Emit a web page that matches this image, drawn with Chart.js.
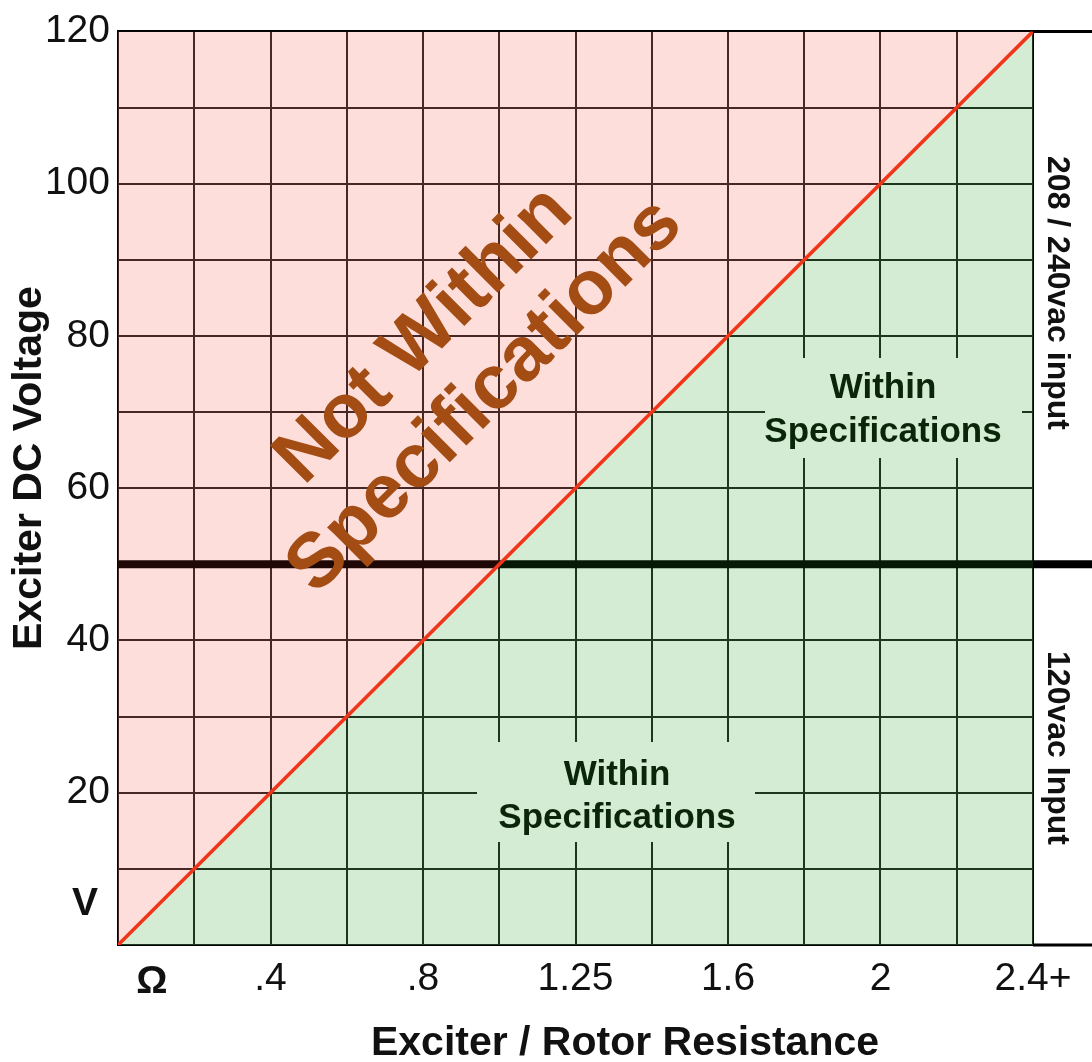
<!DOCTYPE html>
<html><head><meta charset="utf-8">
<script src="https://cdn.jsdelivr.net/npm/chart.js@4.4.0/dist/chart.umd.min.js"></script>
<style>html,body{margin:0;padding:0;background:#fff;}#wrap{width:1092px;height:1062px;}</style>
</head><body><div id="wrap"><canvas id="c" width="1092" height="1062"></canvas></div>
<script>
// ---- data ----
const resistance = [0, 2.4];          // Ω (x)
const voltageLimit = [0, 120];        // V (y) : limit line V = 50·R
const inputSplit = 50;                // 120vac / 208-240vac boundary (V)
const xTickValues = [0.4, 0.8, 1.2, 1.6, 2.0, 2.4];
const xTickLabels = ['.4', '.8', '1.25', '1.6', '2', '2.4+'];
const yTickValues = [20, 40, 60, 80, 100, 120];
const yTickLabels = ['20', '40', '60', '80', '100', '120'];
const xUnit = 'Ω', yUnit = 'V';
const xTitle = 'Exciter / Rotor Resistance';
const yTitle = 'Exciter DC Voltage';
const upperRange = '208 / 240vac input';
const lowerRange = '120vac Input';
const badZone = ['Not Within', 'Specifications'];
const goodZone = ['Within', 'Specifications'];

const FONT = "'Liberation Sans', Arial, Helvetica, sans-serif";
Chart.defaults.font.family = FONT;

const linePts = resistance.map((r, i) => ({x: r, y: voltageLimit[i]}));

function lookup(vals, labels, v) {
  const i = vals.findIndex(t => Math.abs(t - v) < 1e-6);
  return i >= 0 ? labels[i] : '';
}

const overlay = {
  id: 'overlay',
  beforeDraw(chart) {
    const ctx = chart.ctx;
    ctx.save(); ctx.fillStyle = '#fff'; ctx.fillRect(0, 0, chart.width, chart.height); ctx.restore();
  },
  beforeDatasetsDraw(chart) {
    const {ctx, chartArea: a, scales: {y}} = chart;
    ctx.save();
    ctx.strokeStyle = '#000';
    ctx.lineWidth = 3;
    [y.max, y.min].forEach(v => {
      const p = y.getPixelForValue(v);
      ctx.beginPath(); ctx.moveTo(a.right, p); ctx.lineTo(chart.width, p); ctx.stroke();
    });
    ctx.restore();
  },
  beforeDatasetDraw(chart, args) {
    if (args.index !== 0) return;   // draw the split line just before the red limit line
    const {ctx, chartArea: a, scales: {x, y}} = chart;
    const ys = y.getPixelForValue(inputSplit);
    const xs = x.getPixelForValue(inputSplit * resistance[1] / voltageLimit[1]);
    ctx.save();
    ctx.lineWidth = 8;
    ctx.strokeStyle = '#1f0806';
    ctx.beginPath(); ctx.moveTo(a.left, ys); ctx.lineTo(xs, ys); ctx.stroke();
    ctx.strokeStyle = '#061806';
    ctx.beginPath(); ctx.moveTo(xs, ys); ctx.lineTo(a.right, ys); ctx.stroke();
    ctx.strokeStyle = '#000';
    ctx.beginPath(); ctx.moveTo(a.right, ys); ctx.lineTo(chart.width, ys); ctx.stroke();
    ctx.restore();
  },
  afterDraw(chart) {
    const ctx = chart.ctx;
    ctx.save();
    ctx.fillStyle = '#111';
    ctx.textAlign = 'center';
    ctx.textBaseline = 'middle';
    ctx.font = 'bold 39px ' + FONT;
    ctx.fillText(xUnit, 152, 982);
    ctx.fillText(yUnit, 85, 904);

    ctx.textBaseline = 'alphabetic';
    ctx.font = 'bold 41px ' + FONT;
    ctx.fillText(xTitle, 625, 1055);
    ctx.save(); ctx.translate(41, 468); ctx.rotate(-Math.PI / 2); ctx.fillText(yTitle, 0, 0); ctx.restore();

    ctx.font = 'bold 32px ' + FONT;
    ctx.save(); ctx.translate(1048, 293); ctx.rotate(Math.PI / 2); ctx.fillText(upperRange, 0, 0); ctx.restore();
    ctx.save(); ctx.translate(1048, 748); ctx.rotate(Math.PI / 2); ctx.fillText(lowerRange, 0, 0); ctx.restore();

    // Not within specifications
    ctx.fillStyle = '#a34c14';
    ctx.font = 'bold 77px ' + FONT;
    ctx.save(); ctx.translate(451, 362); ctx.rotate(-Math.PI / 4);
    ctx.fillText(badZone[0], 0, -16);
    ctx.fillText(badZone[1], 0, 70);
    ctx.restore();

    // Within specifications labels with background boxes
    const boxes = [
      {x0: 477, x1: 755, y0: 742, y1: 842, cx: 617, b1: 785, b2: 828},
      {x0: 765, x1: 1022, y0: 358, y1: 458, cx: 883, b1: 398, b2: 442}
    ];
    ctx.font = 'bold 35px ' + FONT;
    boxes.forEach(b => {
      ctx.fillStyle = 'rgb(212,236,212)';
      ctx.fillRect(b.x0, b.y0, b.x1 - b.x0, b.y1 - b.y0);
      ctx.fillStyle = '#0a260a';
      ctx.fillText(goodZone[0], b.cx, b.b1);
      ctx.fillText(goodZone[1], b.cx, b.b2);
    });
    ctx.restore();
  }
};

new Chart(document.getElementById('c'), {
  type: 'line',
  data: {
    datasets: [
      // Chart.js paints datasets from last to first: the red limit line goes on top
      {data: linePts, fill: false, borderColor: '#f0361a', borderWidth: 3.6, pointRadius: 0},
      {data: linePts, fill: 'end', backgroundColor: 'rgba(248,140,126,0.286)', borderWidth: 0, pointRadius: 0},
      {data: linePts, fill: 'origin', backgroundColor: 'rgba(105,189,105,0.286)', borderWidth: 0, pointRadius: 0}
    ]
  },
  options: {
    responsive: false,
    animation: false,
    devicePixelRatio: 1,
    layout: {padding: {top: 30, right: 59, left: 0, bottom: 0}},
    plugins: {legend: {display: false}, tooltip: {enabled: false}},
    scales: {
      x: {
        type: 'linear', min: 0, max: 2.4,
        afterFit: s => { s.height = 117; },
        ticks: {stepSize: 0.2, autoSkip: false, maxRotation: 0, padding: 11,
                color: '#111', font: {size: 39},
                callback: v => lookup(xTickValues, xTickLabels, v)},
        grid: {color: '#000', lineWidth: 2, drawTicks: false},
        border: {color: '#000', width: 2}
      },
      y: {
        type: 'linear', min: 0, max: 120,
        afterFit: s => { s.width = 118; },
        ticks: {stepSize: 10, autoSkip: false, padding: 8,
                color: '#111', font: {size: 39},
                callback: v => lookup(yTickValues, yTickLabels, v)},
        grid: {color: '#000', lineWidth: 2, drawTicks: false},
        border: {color: '#000', width: 2}
      }
    }
  },
  plugins: [overlay]
});
</script></body></html>
